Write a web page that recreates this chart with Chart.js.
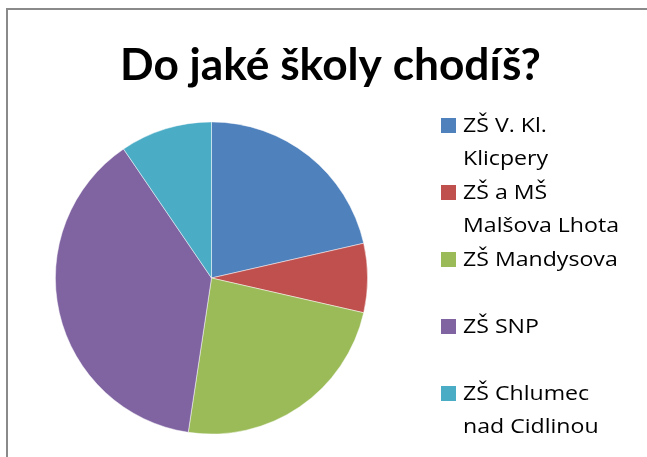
<!DOCTYPE html>
<html>
<head>
<meta charset="utf-8">
<script src="https://cdn.jsdelivr.net/npm/chart.js@4/dist/chart.umd.min.js"></script>
<style>
html,body{margin:0;padding:0;background:#fff;overflow:hidden;}
#wrap{position:relative;width:647px;height:457px;}
</style>
</head>
<body>
<div id="wrap"><canvas id="c" width="647" height="457"></canvas></div>
<script>
const chartTitle = 'Do jaké školy chodíš?';
const categories = [['ZŠ V. Kl.','Klicpery'],['ZŠ a MŠ','Malšova Lhota'],['ZŠ Mandysova'],['ZŠ SNP'],['ZŠ Chlumec','nad Cidlinou']];
const values = [9, 3, 10, 16, 4];
const colors = ['#4F81BD','#C0504D','#9BBB59','#8064A2','#4BACC6'];

const decor = {
  id:'decor',
  beforeDraw(chart){
    const ctx = chart.ctx;
    ctx.save();
    ctx.fillStyle='#fff';
    ctx.fillRect(0,0,chart.width,chart.height);
    ctx.strokeStyle='#8a8a8a';
    ctx.lineWidth=2;
    ctx.strokeRect(7,9,700,500);
    ctx.restore();
  },
  afterDraw(chart){
    const ctx = chart.ctx;
    ctx.save();
    // title
    ctx.fillStyle='#000';
    ctx.textAlign='center';
    ctx.textBaseline='alphabetic';
    let fs = 40;
    ctx.font = 'bold '+fs+'px Lato, "Liberation Sans", sans-serif';
    const w = ctx.measureText(chartTitle).width;
    fs = fs*421/w;
    ctx.font = 'bold '+fs.toFixed(2)+'px Lato, "Liberation Sans", sans-serif';
    ctx.fillText(chartTitle, 330.5, 80);
    // legend
    const labs = chart.data.labels;
    const bg = chart.data.datasets[0].backgroundColor;
    ctx.textAlign='left';
    ctx.font = '20px "Open Sans", Lato, sans-serif';
    const ref = ctx.measureText('Malšova Lhota').width;
    const sx = 156/ref;
    labs.forEach((lab,i)=>{
      const base = 132 + 67*i;
      ctx.fillStyle = bg[i];
      ctx.fillRect(441, base-14, 15, 15);
      ctx.fillStyle='#000';
      const lines = Array.isArray(lab)?lab:[lab];
      lines.forEach((t,j)=>{
        ctx.save();
        ctx.translate(463, base + 33*j);
        ctx.scale(sx,1);
        ctx.fillText(t, 0, 0);
        ctx.restore();
      });
    });
    ctx.restore();
  }
};

new Chart(document.getElementById('c'), {
  type:'pie',
  data:{
    labels: categories,
    datasets:[{
      data: values,
      backgroundColor: colors,
      borderColor:'rgba(255,255,255,0.6)',
      borderWidth:0.8
    }]
  },
  options:{
    responsive:false,
    animation:false,
    layout:{padding:{left:55,right:279,top:121.5,bottom:22.5}},
    plugins:{legend:{display:false},title:{display:false},tooltip:{enabled:false}}
  },
  plugins:[decor]
});
</script>
</body>
</html>
